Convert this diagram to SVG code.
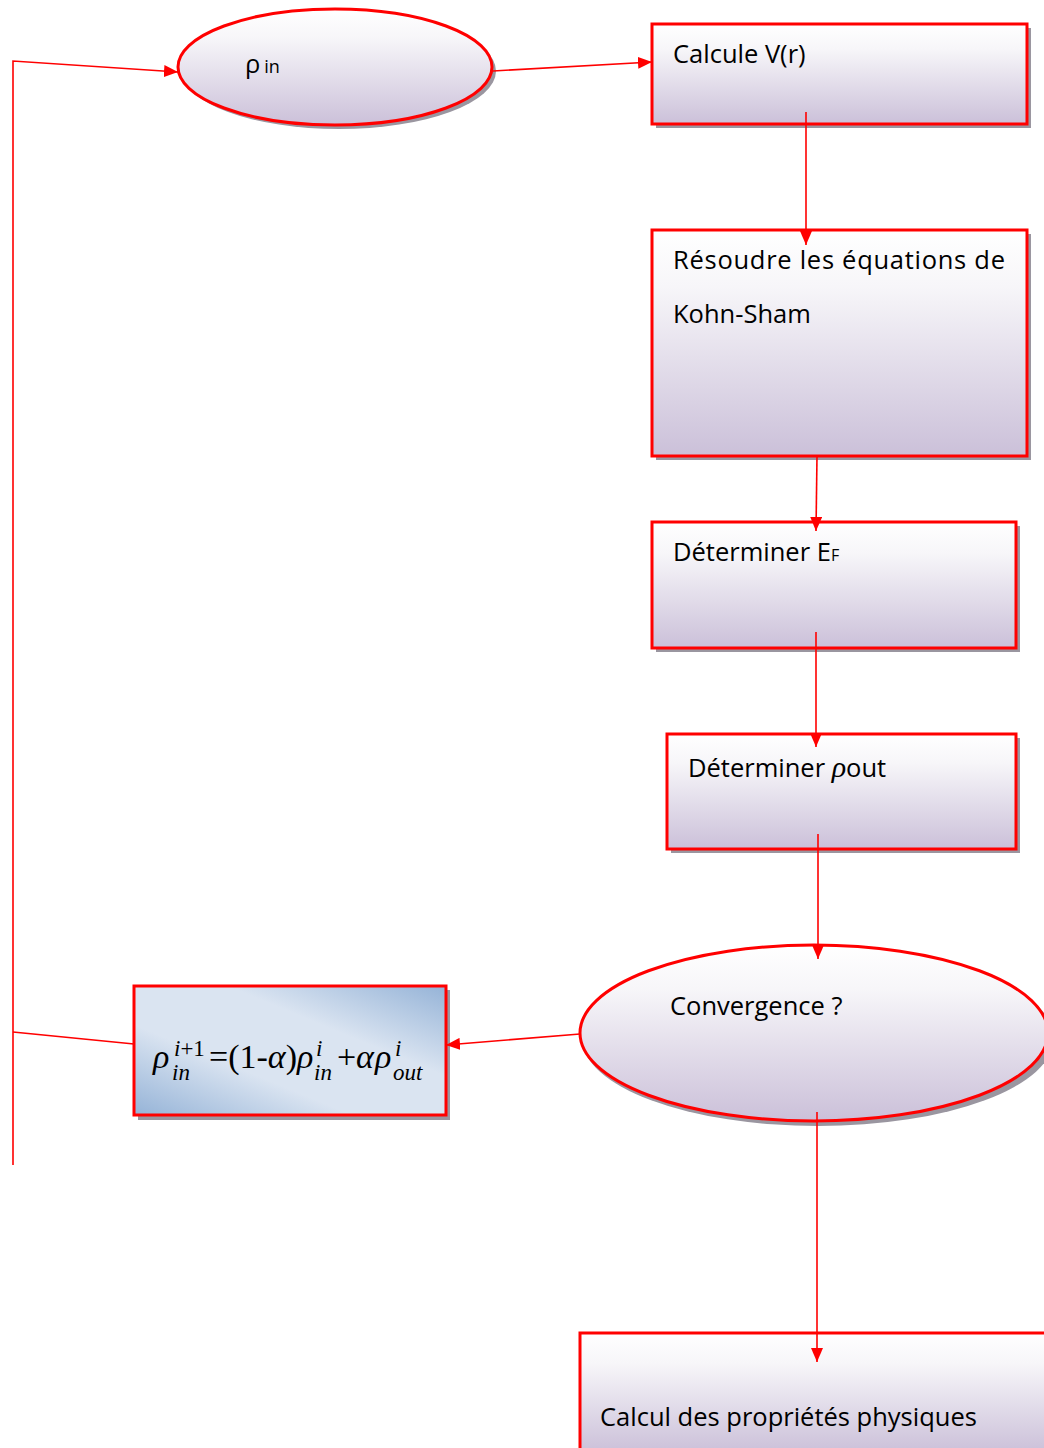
<svg xmlns="http://www.w3.org/2000/svg" width="1044" height="1448" viewBox="0 0 1044 1448">
<defs>
<linearGradient id="lav" x1="0" y1="0" x2="0" y2="1">
<stop offset="0" stop-color="#ffffff"/>
<stop offset="0.25" stop-color="#f7f6f9"/>
<stop offset="1" stop-color="#cbc0d9"/>
</linearGradient>
<linearGradient id="blue" x1="0" y1="1" x2="1" y2="0">
<stop offset="0" stop-color="#95b3d7"/>
<stop offset="0.35" stop-color="#dae4f1"/>
<stop offset="0.65" stop-color="#dae4f1"/>
<stop offset="1" stop-color="#95b3d7"/>
</linearGradient>
<marker id="arr" viewBox="0 0 14 12" refX="14" refY="6" markerWidth="14" markerHeight="12" orient="auto" markerUnits="userSpaceOnUse">
<path d="M0,0 L14,6 L0,12 z" fill="#ff0000"/>
</marker>
<style>
.box{fill:url(#lav);stroke:#ff0000;stroke-width:3}
.shadow{fill:#9a96a0}
.con{stroke:#ff0000;stroke-width:1.6;fill:none}
.t{font-family:"Open Sans","Liberation Sans",sans-serif;font-size:25.5px;fill:#000}
.m{font-family:"Liberation Serif","Times New Roman",serif;font-style:italic;fill:#000}
.up{font-style:normal}
.s{font-size:23px}
</style>
</defs>

<g id="node-rho-in">
<ellipse class="shadow" cx="339" cy="71" rx="157" ry="58"/>
<ellipse class="box" cx="335" cy="67" rx="157" ry="58"/>
<text class="t" x="245" y="73" font-size="32">ρ<tspan font-size="18" dx="4">in</tspan></text>
</g>

<g id="node-calcule">
<rect class="shadow" x="656" y="28" width="375" height="100"/>
<rect class="box" x="652" y="24" width="375" height="100"/>
<text class="t" x="673" y="63">Calcule V(r)</text>
</g>

<g id="node-resoudre">
<rect class="shadow" x="656" y="234" width="375" height="226"/>
<rect class="box" x="652" y="230" width="375" height="226"/>
<text class="t" x="673" y="269" textLength="332" lengthAdjust="spacing">Résoudre les équations de</text>
<text class="t" x="673" y="323">Kohn-Sham</text>
</g>

<g id="node-ef">
<rect class="shadow" x="656" y="526" width="364" height="126"/>
<rect class="box" x="652" y="522" width="364" height="126"/>
<text class="t" x="673" y="561">Déterminer E<tspan font-size="16">F</tspan></text>
</g>

<g id="node-rhoout">
<rect class="shadow" x="671" y="738" width="349" height="115"/>
<rect class="box" x="667" y="734" width="349" height="115"/>
<text class="t" x="688" y="777">Déterminer <tspan font-family="Liberation Serif,serif" font-style="italic" font-size="30">ρ</tspan>out</text>
</g>

<g id="node-convergence">
<ellipse class="shadow" cx="818" cy="1038" rx="236" ry="88"/>
<ellipse class="box" cx="814" cy="1033" rx="234" ry="88"/>
<text class="t" x="670" y="1015">Convergence ?</text>
</g>

<g id="node-mix">
<rect class="shadow" x="138" y="990" width="312" height="130"/>
<rect x="134" y="986" width="312" height="129" fill="url(#blue)" stroke="#ff0000" stroke-width="3"/>
<text class="m" font-size="34"><tspan x="153" y="1068">ρ</tspan><tspan class="s" x="174" y="1056">i<tspan class="up">+1</tspan></tspan><tspan class="s" x="172" y="1080">in</tspan><tspan class="up" x="209" y="1068">=(1-</tspan><tspan>α</tspan><tspan class="up">)</tspan><tspan x="297">ρ</tspan><tspan class="s" x="316" y="1056">i</tspan><tspan class="s" x="314" y="1080">in</tspan><tspan class="up" x="337" y="1068">+</tspan><tspan x="356">α</tspan><tspan x="375">ρ</tspan><tspan class="s" x="395" y="1056">i</tspan><tspan class="s" x="393" y="1080">out</tspan></text>
</g>

<g id="node-calcul-proprietes">
<rect class="shadow" x="584" y="1337" width="470" height="120"/>
<rect class="box" x="580" y="1333" width="470" height="120"/>
<text class="t" x="600" y="1426">Calcul des propriétés physiques</text>
</g>

<g id="connectors">
<polyline class="con" points="13,1165 13,61 178,72" marker-end="url(#arr)"/>
<line class="con" x1="493" y1="71" x2="652" y2="62" marker-end="url(#arr)"/>
<line class="con" x1="806" y1="112" x2="806" y2="245" marker-end="url(#arr)"/>
<line class="con" x1="817" y1="456" x2="816" y2="531" marker-end="url(#arr)"/>
<line class="con" x1="816" y1="632" x2="816" y2="747" marker-end="url(#arr)"/>
<line class="con" x1="818" y1="834" x2="818" y2="959" marker-end="url(#arr)"/>
<line class="con" x1="580" y1="1034" x2="446" y2="1045" marker-end="url(#arr)"/>
<line class="con" x1="134" y1="1044" x2="13" y2="1032"/>
<line class="con" x1="817" y1="1112" x2="817" y2="1362" marker-end="url(#arr)"/>
</g>
</svg>
